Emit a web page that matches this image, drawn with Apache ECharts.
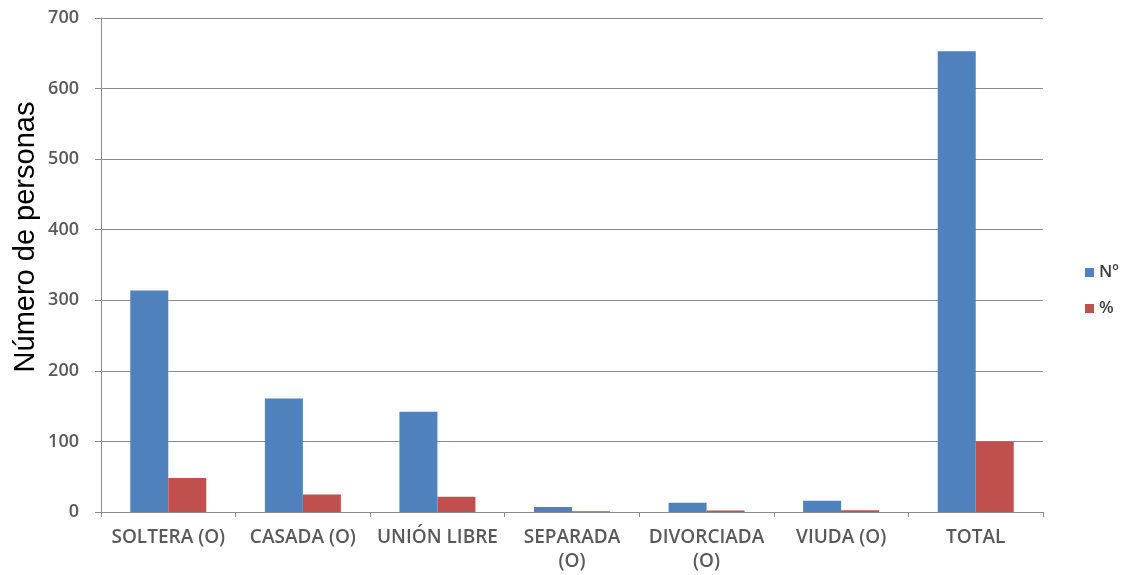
<!DOCTYPE html>
<html>
<head>
<meta charset="utf-8">
<script src="https://cdn.jsdelivr.net/npm/echarts@6/dist/echarts.min.js"></script>
<style>
  html, body { margin: 0; padding: 0; background: #fff; }
  #main { width: 1126px; height: 575px; }
</style>
</head>
<body>
<div id="main"></div>
<script>
// estado civil
var categorias = ["SOLTERA (O)", "CASADA (O)", "UNIÓN LIBRE", "SEPARADA\n(O)", "DIVORCIADA\n(O)", "VIUDA (O)", "TOTAL"];
var numero = [314, 161, 142, 7, 13, 16, 653];
var porcentaje = [48.1, 24.7, 21.7, 1.1, 2.0, 2.5, 100];

var myChart = echarts.init(document.getElementById("main"));
var axisText = { color: "#595959", fontFamily: "Open Sans", fontSize: 19, fontWeight: 600 };

var option = {
  animation: false,
  grid: { left: 101, right: 83, top: 18, bottom: 63 },
  graphic: [
    {
      type: "text",
      x: 26,
      y: 237,
      rotation: Math.PI / 2,
      style: {
        text: "Número de personas",
        fill: "#000",
        font: "29px 'Liberation Sans'",
        textAlign: "center",
        textVerticalAlign: "middle"
      }
    }
  ],
  legend: {
    orient: "vertical",
    left: 1080,
    top: 259,
    itemWidth: 9,
    itemHeight: 9,
    itemGap: 19,
    icon: "rect",
    textStyle: { color: "#404040", fontFamily: "Open Sans", fontSize: 17, fontWeight: 600 },
    data: ["Nº", "%"]
  },
  xAxis: {
    type: "category",
    data: categorias,
    axisLine: { lineStyle: { color: "#8c8c8c" } },
    axisTick: { show: true, length: 5, lineStyle: { color: "#8c8c8c" } },
    axisLabel: Object.assign({ margin: 14, lineHeight: 24, interval: 0 }, axisText)
  },
  yAxis: {
    type: "value",
    min: 0,
    max: 700,
    interval: 100,
    axisLine: { show: true, lineStyle: { color: "#8c8c8c" } },
    axisTick: { show: true, length: 6, lineStyle: { color: "#8c8c8c" } },
    axisLabel: Object.assign({}, axisText, { fontSize: 18, margin: 22 }),
    splitLine: { lineStyle: { color: "#8c8c8c" } }
  },
  series: [
    {
      name: "Nº",
      type: "bar",
      data: numero,
      barWidth: 38,
      barGap: "0%",
      itemStyle: { color: "#4f81bd" }
    },
    {
      name: "%",
      type: "bar",
      data: porcentaje,
      barWidth: 38,
      itemStyle: { color: "#c0504d" }
    }
  ]
};
myChart.setOption(option);
</script>
</body>
</html>
